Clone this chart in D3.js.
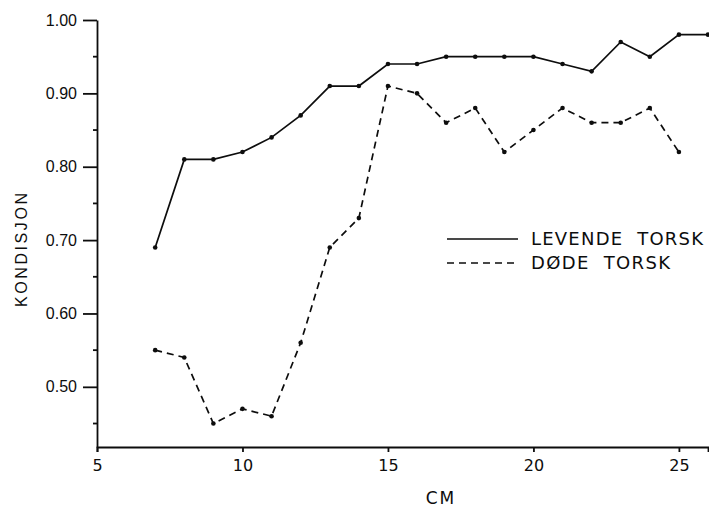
<!DOCTYPE html>
<html>
<head>
<meta charset="utf-8">
<script src="https://cdn.jsdelivr.net/npm/d3@7"></script>
<style>
  body { margin: 0; background: #fff; }
</style>
</head>
<body>
<div class="main"></div>
<script>
const width = 709;
const height = 508;
const margin = ({top: 20, right: 1, bottom: 61, left: 97});
const ink = '#0d0d0d';

// lengths in cm
const lengths = [7, 8, 9, 10, 11, 12, 13, 14, 15, 16, 17, 18, 19, 20, 21, 22, 23, 24, 25, 26];
// condition factor, living cod
const levende = [0.69, 0.81, 0.81, 0.82, 0.84, 0.87, 0.91, 0.91, 0.94, 0.94, 0.95, 0.95, 0.95, 0.95, 0.94, 0.93, 0.97, 0.95, 0.98, 0.98];
// condition factor, dead cod (no value at 26)
const dode = [0.55, 0.54, 0.45, 0.47, 0.46, 0.56, 0.69, 0.73, 0.91, 0.90, 0.86, 0.88, 0.82, 0.85, 0.88, 0.86, 0.86, 0.88, 0.82, null];

const xTicks = [5, 10, 15, 20, 25];
const yTicks = [0.50, 0.60, 0.70, 0.80, 0.90, 1.00];
const yMinor = [0.45, 0.55, 0.65, 0.75, 0.85, 0.95];

const series = [
  {name: 'LEVENDE  TORSK', values: levende, dash: null},
  {name: 'DØDE  TORSK', values: dode, dash: '7,5'}
];

const svg = d3.select('.main')
  .append('svg')
  .attr('width', width)
  .attr('height', height);

const x = d3.scaleLinear()
  .domain([5, 26])
  .range([margin.left, width - margin.right]);

const y = d3.scaleLinear()
  .domain([0.418, 1.0])
  .range([height - margin.bottom, margin.top]);

// x axis
const xAxis = svg.append('g')
  .attr('transform', `translate(0, ${height - margin.bottom})`)
  .call(d3.axisBottom(x).tickValues(xTicks).tickSize(5).tickSizeOuter(5).tickPadding(8))
xAxis.selectAll('path, line').attr('stroke', ink).attr('stroke-width', 1.8);
xAxis.selectAll('text')
  .attr('fill', ink)
  .style('font', '16px "DejaVu Sans"');

// y axis
const yAxis = svg.append('g')
  .attr('transform', `translate(${margin.left}, 0)`)
  .call(d3.axisLeft(y).tickValues(yTicks).tickSize(14).tickSizeOuter(0).tickPadding(6).tickFormat(d3.format('.2f')))
yAxis.selectAll('path, line').attr('stroke', ink).attr('stroke-width', 1.8);
yAxis.selectAll('text')
  .attr('fill', ink)
  .style('font', '16px "Liberation Sans"');

// minor ticks
svg.append('g')
  .selectAll('line')
  .data(yMinor)
  .enter()
  .append('line')
  .attr('x1', margin.left - 4)
  .attr('x2', margin.left)
  .attr('y1', d => y(d))
  .attr('y2', d => y(d))
  .attr('stroke', ink)
  .attr('stroke-width', 1.8);

// lines + dots
const line = d3.line()
  .defined(d => d[1] != null)
  .x(d => x(d[0]))
  .y(d => y(d[1]));

series.forEach(s => {
  const pts = lengths.map((l, i) => [l, s.values[i]]);
  svg.append('path')
    .datum(pts)
    .attr('d', line)
    .attr('fill', 'none')
    .attr('stroke', ink)
    .attr('stroke-width', 1.7)
    .attr('stroke-dasharray', s.dash);
  svg.append('g')
    .selectAll('circle')
    .data(pts.filter(d => d[1] != null))
    .enter()
    .append('circle')
    .attr('cx', d => x(d[0]))
    .attr('cy', d => y(d[1]))
    .attr('r', 2.3)
    .attr('fill', ink);
});

// legend
const legend = svg.append('g')
  .attr('transform', 'translate(447, 239)');
legend.selectAll('g')
  .data(series)
  .enter()
  .append('g')
  .attr('transform', (d, i) => `translate(0, ${i * 24})`)
  .each(function(d, i) {
    const g = d3.select(this);
    g.append('line')
      .attr('x1', 0).attr('x2', 71)
      .attr('stroke', ink)
      .attr('stroke-width', 1.5)
      .attr('stroke-dasharray', d.dash);
    g.append('text')
      .attr('x', 84)
      .attr('dy', '0.36em')
      .attr('textLength', i === 0 ? 172 : 139)
      .attr('lengthAdjust', 'spacing')
      .style('font', '18px "DejaVu Sans"')
      .style('white-space', 'pre')
      .attr('fill', ink)
      .text(d.name);
  });

// axis titles
svg.append('text')
  .attr('transform', 'translate(21, 250) rotate(-90)')
  .attr('text-anchor', 'middle')
  .attr('dy', '0.36em')
  .attr('textLength', 114)
  .attr('lengthAdjust', 'spacing')
  .style('font', '16px "Liberation Sans"')
  .attr('fill', ink)
  .text('KONDISJON');

svg.append('text')
  .attr('x', 441)
  .attr('y', 498)
  .attr('text-anchor', 'middle')
  .attr('dy', '0.36em')
  .style('font', '17px "DejaVu Sans"')
  .style('letter-spacing', '2px')
  .attr('fill', ink)
  .text('CM');
</script>
</body>
</html>
